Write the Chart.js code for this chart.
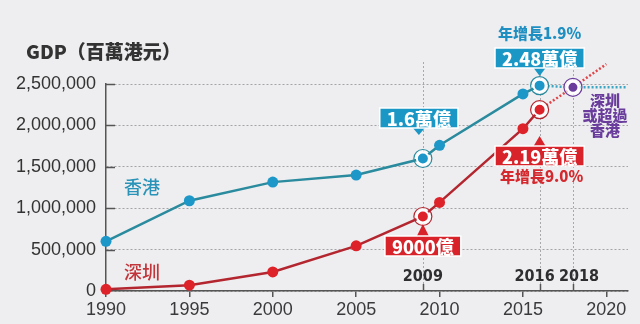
<!DOCTYPE html>
<html>
<head>
<meta charset="utf-8">
<script src="https://cdn.jsdelivr.net/npm/chart.js@4/dist/chart.umd.min.js"></script>
<style>
  html, body { margin: 0; padding: 0; background: #eeeef0; }
  canvas { display: block; }
</style>
</head>
<body>
<canvas id="gdpChart" width="640" height="324"></canvas>
<script>
// GDP, millions of HKD
const years = [1990, 1995, 2000, 2005, 2009, 2010, 2015, 2016];
const hkGdp = [600000, 1090000, 1315000, 1400000, 1600000, 1760000, 2380000, 2480000];
const szGdp = [20000, 70000, 230000, 545000, 900000, 1070000, 1960000, 2190000];

// projected paths after 2016
const hkProjYears = [2016, 2018, 2021.2];
const hkProj = [2480000, 2460000, 2460000];
const szProjYears = [2016, 2018, 2020];
const szProj = [2190000, 2460000, 2740000];
const crossYear = 2018;
const crossGdp = 2460000;

const hkGrowth = 1.9;
const szGrowth = 9.0;

const markYears = [2009, 2016];
const guideYears = [2009, 2016, 2018];
const xTicks = [1990, 1995, 2000, 2005, 2010, 2015, 2020];
const yTicks = [0, 500000, 1000000, 1500000, 2000000, 2500000];

const HK_LINE = '#2a8a9e', HK_DOT = '#1c97c8', HK_BOX = '#1b97c6';
const SZ_LINE = '#b4262f', SZ_DOT = '#de2229', SZ_BOX = '#d8232b';
const PURPLE = '#6a3d9c';
const CJK = '"Noto Sans CJK TC", "Noto Sans CJK SC", sans-serif';
const NARROW = '"DejaVu Sans Condensed", "Liberation Sans Narrow", sans-serif';

const pts = (xs, ys) => xs.map((x, i) => ({ x: x, y: ys[i] }));
const isMark = (ctx) => ctx.raw && markYears.includes(ctx.raw.x);

const wan = (v) => (v / 1000000).toFixed(2).replace(/0$/, '') + '萬億';
const yi = (v) => (v / 100) + '億';

function box(ctx, cx, top, text, fill, dir, tip) {
  ctx.font = '900 18px ' + CJK;
  const w = ctx.measureText(text).width + 14, h = 20;
  const left = cx - w / 2;
  ctx.fillStyle = fill;
  ctx.strokeStyle = '#ffffff';
  ctx.lineWidth = 1.5;
  ctx.beginPath();
  if (dir === 'down') {
    ctx.moveTo(cx - 6, top + h); ctx.lineTo(cx, tip); ctx.lineTo(cx + 6, top + h);
  } else {
    ctx.moveTo(cx - 6, top); ctx.lineTo(cx, tip); ctx.lineTo(cx + 6, top);
  }
  ctx.closePath();
  ctx.fill();
  ctx.fillRect(left, top, w, h);
  ctx.strokeRect(left, top, w, h);
  ctx.fillStyle = '#ffffff';
  ctx.textAlign = 'center';
  ctx.textBaseline = 'middle';
  ctx.fillText(text, cx, top + h / 2 + 1);
}

const overlay = {
  id: 'overlay',
  beforeDatasetsDraw(chart) {
    const { ctx, chartArea: a, scales: { x, y } } = chart;
    ctx.save();
    // dotted guides for the marked years
    ctx.strokeStyle = '#a9a9ad';
    ctx.lineWidth = 1;
    ctx.setLineDash([2, 2]);
    guideYears.forEach((yr) => {
      const px = Math.round(x.getPixelForValue(yr)) + 0.5;
      ctx.beginPath();
      ctx.moveTo(px, yr === 2016 ? 70 : 62);
      ctx.lineTo(px, a.bottom);
      ctx.stroke();
    });
    ctx.setLineDash([]);
    // short inner ticks on the y axis
    ctx.strokeStyle = '#555';
    ctx.lineWidth = 1.5;
    yTicks.slice(1).forEach((v) => {
      const py = Math.round(y.getPixelForValue(v)) + 0.5;
      ctx.beginPath();
      ctx.moveTo(a.left, py);
      ctx.lineTo(a.left + 9, py);
      ctx.stroke();
    });
    // upward ticks for the marked years
    guideYears.forEach((yr) => {
      const px = Math.round(x.getPixelForValue(yr)) + 0.5;
      ctx.beginPath();
      ctx.moveTo(px, a.bottom - 7);
      ctx.lineTo(px, a.bottom);
      ctx.stroke();
    });
    ctx.restore();
  },
  afterDatasetsDraw(chart) {
    const { ctx, chartArea: a, scales: { x } } = chart;
    ctx.save();

    // axis title
    ctx.fillStyle = '#333';
    ctx.font = '900 19px ' + CJK;
    ctx.textAlign = 'left';
    ctx.textBaseline = 'middle';
    ctx.fillText('GDP（百萬港元）', 26, 52);

    // series names
    ctx.font = '500 18px ' + CJK;
    ctx.fillStyle = '#2a93b8';
    ctx.fillText('香港', 124, 187);
    ctx.fillStyle = '#c2363b';
    ctx.fillText('深圳', 124, 272);

    // bold year labels above the axis
    ctx.fillStyle = '#2e2e30';
    ctx.font = '700 16px ' + NARROW;
    ctx.textAlign = 'center';
    ctx.fillText('2009', x.getPixelForValue(2009), a.bottom - 14);
    ctx.fillText('2016', x.getPixelForValue(2016) - 5, a.bottom - 14);
    ctx.fillText('2018', x.getPixelForValue(2018) + 6, a.bottom - 14);

    // value call-outs
    const i09 = years.indexOf(2009), i16 = years.indexOf(2016);
    const x09 = x.getPixelForValue(2009), x16 = x.getPixelForValue(2016);
    box(ctx, x09 - 4, 108, wan(hkGdp[i09]), HK_BOX, 'down', 135);
    box(ctx, x16, 48, wan(hkGdp[i16]), HK_BOX, 'down', 76);
    box(ctx, x16, 146, wan(szGdp[i16]), SZ_BOX, 'up', 136);
    box(ctx, x09, 236, yi(szGdp[i09]), SZ_BOX, 'up', 224);

    // growth notes
    ctx.font = '900 15px ' + CJK;
    ctx.textAlign = 'center';
    ctx.fillStyle = '#1f8fc2';
    ctx.fillText('年增長' + hkGrowth.toFixed(1) + '%', x16, 33);
    ctx.fillStyle = '#d42a2f';
    ctx.fillText('年增長' + szGrowth.toFixed(1) + '%', x16 + 2, 176);

    // crossover note
    ctx.font = '900 15px ' + CJK;
    ctx.fillStyle = PURPLE;
    const xc = x.getPixelForValue(crossYear) + 32;
    ctx.fillText('深圳', xc, 100);
    ctx.fillText('或超過', xc, 115);
    ctx.fillText('香港', xc, 130);

    ctx.restore();
  }
};

new Chart(document.getElementById('gdpChart'), {
  type: 'line',
  data: {
    datasets: [
      {
        data: pts([crossYear], [crossGdp]),
        showLine: false,
        pointRadius: 5.5,
        pointBackgroundColor: PURPLE,
        pointBorderColor: '#ffffff',
        pointBorderWidth: 2,
        clip: false,
        order: 0
      },
      {
        data: pts(years, szGdp),
        borderColor: SZ_LINE,
        borderWidth: 2.5,
        pointRadius: (c) => isMark(c) ? 6 : 5.5,
        pointBackgroundColor: SZ_DOT,
        pointBorderColor: '#ffffff',
        pointBorderWidth: (c) => isMark(c) ? 2 : 0,
        clip: false,
        order: 1
      },
      {
        data: pts(years, hkGdp),
        borderColor: HK_LINE,
        borderWidth: 2.5,
        pointRadius: (c) => isMark(c) ? 6 : 5.5,
        pointBackgroundColor: HK_DOT,
        pointBorderColor: '#ffffff',
        pointBorderWidth: (c) => isMark(c) ? 2 : 0,
        clip: false,
        order: 2
      },
      // halo rings round the marked points
      {
        data: pts([crossYear], [crossGdp]),
        showLine: false,
        pointRadius: 9,
        pointBackgroundColor: 'rgba(255,255,255,0.7)',
        pointBorderColor: PURPLE,
        pointBorderWidth: 1.2,
        clip: false,
        order: 3
      },
      {
        data: pts(markYears, markYears.map((yr) => szGdp[years.indexOf(yr)])),
        showLine: false,
        pointRadius: 9,
        pointBackgroundColor: 'rgba(255,255,255,0.7)',
        pointBorderColor: SZ_LINE,
        pointBorderWidth: 1.2,
        clip: false,
        order: 3
      },
      {
        data: pts(markYears, markYears.map((yr) => hkGdp[years.indexOf(yr)])),
        showLine: false,
        pointRadius: 9,
        pointBackgroundColor: 'rgba(255,255,255,0.7)',
        pointBorderColor: HK_LINE,
        pointBorderWidth: 1.2,
        clip: false,
        order: 3
      },
      // projections
      {
        data: pts(szProjYears, szProj),
        borderColor: '#e0454a',
        borderWidth: 2.5,
        borderDash: [2, 2],
        pointRadius: 0,
        clip: false,
        order: 5
      },
      {
        data: pts(hkProjYears, hkProj),
        borderColor: '#3aa6c4',
        borderWidth: 2.5,
        borderDash: [2, 2],
        pointRadius: 0,
        clip: false,
        order: 5
      }
    ]
  },
  options: {
    responsive: false,
    devicePixelRatio: 1,
    animation: false,
    layout: { padding: { left: 0, right: 12, top: 84, bottom: 0 } },
    plugins: { legend: { display: false }, tooltip: { enabled: false } },
    scales: {
      x: {
        type: 'linear',
        min: 1990,
        max: 2021.3,
        afterBuildTicks: (s) => { s.ticks = xTicks.map((v) => ({ value: v })); },
        afterFit: (s) => { s.height = 33; },
        grid: { drawOnChartArea: false, drawTicks: true, tickLength: 6, color: '#555', lineWidth: 1.5 },
        border: { color: '#555', width: 1.5 },
        ticks: {
          padding: 2,
          color: '#3a3a3c',
          font: { family: '"Liberation Sans", Arial, sans-serif', size: 18 },
          callback: (v) => String(v)
        }
      },
      y: {
        min: 0,
        max: 2500000,
        afterBuildTicks: (s) => { s.ticks = yTicks.map((v) => ({ value: v })); },
        afterFit: (s) => { s.width = 106; },
        grid: { drawTicks: false, color: '#a4a4a8', lineWidth: 1 },
        border: { color: '#555', width: 1.5, dash: [2, 2] },
        ticks: {
          padding: 10,
          color: '#333',
          font: { family: '"Liberation Sans", Arial, sans-serif', size: 18 },
          callback: (v) => v.toLocaleString('en-US')
        }
      }
    }
  },
  plugins: [overlay]
});
</script>
</body>
</html>
